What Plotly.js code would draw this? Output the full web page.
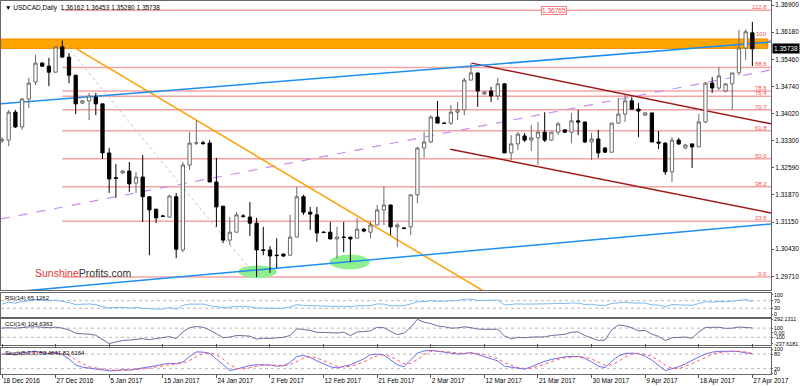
<!DOCTYPE html>
<html><head><meta charset="utf-8">
<script src="https://cdn.plot.ly/plotly-3.0.1.min.js"></script>
<style>html,body{margin:0;padding:0;background:#fff}#chart{width:800px;height:386px}</style>
</head><body><div id="chart"></div>
<script>
// ---- data ----
const tickIdx = [0,8,16,24,32,40,48,56,64,72,80,88,96,104,112];
const tickText = ['18 Dec 2016','27 Dec 2016','5 Jan 2017','15 Jan 2017','24 Jan 2017','2 Feb 2017','12 Feb 2017','21 Feb 2017','2 Mar 2017','12 Mar 2017','21 Mar 2017','30 Mar 2017','9 Apr 2017','18 Apr 2017','27 Apr 2017'];

const openP = [1.3330,1.3332,1.3406,1.3367,1.3441,1.3486,1.3536,1.3528,1.3512,1.3579,
1.3552,1.3504,1.3430,1.3436,1.3446,1.3428,1.3298,1.3232,1.3245,1.3250,
1.3218,1.3234,1.3182,1.3149,1.3131,1.3128,1.3182,1.3041,1.3266,1.3324,
1.3325,1.3324,1.3221,1.3157,1.3067,1.3088,1.3131,1.3128,1.3112,1.3041,
1.3041,1.3027,1.3030,1.3027,1.3075,1.3182,1.3141,1.3134,1.3088,1.3088,
1.3070,1.3075,1.3075,1.3072,1.3096,1.3088,1.3107,1.3147,1.3160,1.3102,
1.3099,1.3102,1.3187,1.3311,1.3327,1.3393,1.3377,1.3377,1.3406,1.3412,
1.3491,1.3510,1.3454,1.3462,1.3449,1.3481,1.3298,1.3322,1.3343,1.3332,
1.3338,1.3353,1.3332,1.3353,1.3359,1.3353,1.3383,1.3380,1.3327,1.3335,
1.3311,1.3300,1.3377,1.3401,1.3436,1.3414,1.3398,1.3404,1.3327,1.3324,
1.3248,1.3332,1.3311,1.3322,1.3314,1.3380,1.3483,1.3470,1.3462,1.3481,
1.3510,1.3576,1.36162];
const highP = [1.3340,1.3412,1.3412,1.3444,1.3497,1.3558,1.3539,1.3550,1.3579,1.3596,
1.3563,1.3504,1.3438,1.3457,1.3457,1.3428,1.3311,1.3269,1.3253,1.3274,
1.3248,1.3293,1.3182,1.3149,1.3134,1.3187,1.3192,1.3274,1.3353,1.3385,
1.3330,1.3332,1.3285,1.3157,1.3128,1.3141,1.3136,1.3168,1.3126,1.3102,
1.3051,1.3072,1.3031,1.3134,1.3208,1.3187,1.3155,1.3155,1.3091,1.3115,
1.3102,1.3115,1.3075,1.3126,1.3099,1.3115,1.3160,1.3208,1.3160,1.3112,
1.3102,1.3187,1.3314,1.3353,1.3398,1.3436,1.3380,1.3425,1.3433,1.3497,
1.3536,1.3510,1.3462,1.3473,1.3497,1.3483,1.3345,1.3353,1.3351,1.3372,
1.3380,1.3406,1.3353,1.3380,1.3361,1.3404,1.3412,1.3380,1.3351,1.3359,
1.3314,1.3377,1.3444,1.3452,1.3446,1.3430,1.3406,1.3404,1.3356,1.3327,
1.3340,1.3338,1.3322,1.3322,1.3401,1.3486,1.3499,1.3526,1.3483,1.3510,
1.3624,1.3626,1.36453];
const lowP = [1.3324,1.3316,1.3364,1.3359,1.3417,1.3478,1.3526,1.3475,1.3510,1.3550,
1.3483,1.3401,1.3428,1.3385,1.3398,1.3282,1.3192,1.3179,1.3242,1.3195,
1.3192,1.3115,1.3027,1.3112,1.3128,1.3126,1.3019,1.3035,1.3253,1.3319,
1.3319,1.3221,1.3102,1.3059,1.3054,1.3088,1.3126,1.3078,1.2969,1.3027,
1.2980,1.2993,1.3022,1.3026,1.3075,1.3134,1.3094,1.3062,1.3086,1.3070,
1.3019,1.3035,1.3009,1.3072,1.3088,1.3072,1.3107,1.3107,1.3080,1.3048,
1.3096,1.3080,1.3165,1.3285,1.3324,1.3377,1.3375,1.3372,1.3385,1.3398,
1.3491,1.3420,1.3452,1.3433,1.3438,1.3298,1.3279,1.3306,1.3327,1.3303,
1.3266,1.3327,1.3330,1.3345,1.3351,1.3324,1.3345,1.3324,1.3279,1.3285,
1.3298,1.3298,1.3375,1.3380,1.3414,1.3340,1.3396,1.3327,1.3308,1.3240,
1.3221,1.3319,1.3308,1.3258,1.3314,1.3377,1.3457,1.3465,1.3459,1.3412,
1.3504,1.3544,1.35280];
const closeP = [1.3333,1.3406,1.3367,1.3441,1.3483,1.3536,1.3528,1.3512,1.3579,1.3552,
1.3504,1.3428,1.3436,1.3449,1.3428,1.3298,1.3229,1.3231,1.3250,1.3216,
1.3234,1.3182,1.3147,1.3126,1.3130,1.3184,1.3043,1.3266,1.3324,1.3325,
1.3323,1.3221,1.3155,1.3067,1.3088,1.3134,1.3130,1.3112,1.3041,1.3040,
1.3025,1.3026,1.3025,1.3075,1.3182,1.3141,1.3136,1.3086,1.3087,1.3070,
1.3075,1.3074,1.3070,1.3096,1.3091,1.3107,1.3147,1.3160,1.3102,1.3107,
1.3098,1.3187,1.3311,1.3327,1.3393,1.3377,1.3376,1.3406,1.3412,1.3491,
1.3510,1.3462,1.3459,1.3449,1.3481,1.3298,1.3322,1.3348,1.3332,1.3338,
1.3353,1.3332,1.3353,1.3375,1.3353,1.3383,1.3380,1.3327,1.3335,1.3298,
1.3300,1.3377,1.3401,1.3436,1.3414,1.3409,1.3404,1.3327,1.3324,1.3248,
1.3332,1.3322,1.3319,1.3314,1.3380,1.3483,1.3470,1.3502,1.3481,1.3510,
1.3576,1.3619,1.35738];

const rsi = [52,62,57,66,70,74,72,69,73,68,
60,50,51,53,49,38,33,33,35,31,
34,30,27,26,26,34,25,46,52,52,
52,44,39,33,36,40,40,38,31,31,
30,30,30,37,49,45,44,40,40,39,
40,40,39,43,42,44,53,52,43,44,
44,53,64,65,70,67,67,69,70,77,
78,70,71,69,73,48,51,53,52,52,
54,51,54,56,55,58,57,50,51,46,
45,55,58,62,58,57,57,48,47,38,
50,48,47,46,55,65,62,66,64,67,
73,76,65.1262];
const cci = [102,110,100,118,125,130,118,110,122,100,
60,-10,-25,-30,-55,-150,-237.6181,-200,-170,-160,
-140,-130,-150,-125,-110,-85,-130,20,110,135,
120,60,-20,-110,-95,-60,-65,-75,-140,-120,
-125,-110,-100,-60,85,70,50,10,5,-10,
-5,10,-60,15,20,40,120,110,30,-40,
-10,120,292.1311,230,200,150,130,100,105,130,
110,80,75,70,75,-70,-130,-100,-110,-95,
-85,-90,-60,-40,-35,10,20,-60,-120,-170,
-160,60,170,150,110,40,50,-30,-80,-170,
-110,-100,-95,-120,20,116,120,120,95,100,
125,118,104.6363];
const stochK = [78,82,76,85,88,92,85,80,88,78,
60,35,26,22,18,14,11,12,16,14,
18,22,26,32,38,42,40,48,70,89,
88,82,60,35,12,18,25,33,36,37,
35,30,32,45,70,74,66,52,40,28,
23,30,36,48,60,78,80,76,55,36,
28,58,84,93,95,92,88,84,80,82,
86,78,70,60,52,30,25,20,18,28,
40,50,58,65,69,70,70,62,48,30,
24,50,72,82,84,82,72,55,35,12,
20,28,40,55,68,80,88,91,92,92,
90,84,80.4641];
const stochD = [80,79,80,81,84,88,88,86,84,82,
75,58,40,28,22,18,14,12,13,14,
16,18,22,27,32,37,40,43,53,69,
82,86,77,59,36,22,18,25,31,35,
36,34,32,36,49,63,70,64,53,40,
30,27,30,38,48,62,73,78,70,56,
40,41,57,78,91,93,92,88,84,82,
83,82,78,69,61,44,36,25,21,22,
29,39,49,58,64,68,70,67,60,47,
34,35,49,68,79,83,79,70,54,34,
22,20,29,41,54,68,79,86,90,92,
91,89,82.6164];

// price axis ticks
const priceTicks = [1.369,1.3618,1.3546,1.3474,1.3402,1.3330,1.3259,1.3187,1.3115,1.3043,1.2971];
const priceTickText = ['1.36900','1.36180','1.35460','1.34740','1.34020','1.33300','1.32590','1.31870','1.31150','1.30430','1.29710'];

// Fibonacci retracement (bar 9 high -> bar 38 low)
const fibLevels = [0,23.6,38.2,50,61.8,70.7,76.4,78.6,88.6,100,112.8];
const fibLabels = ['0.0','23.6','38.2','50.0','61.8','70.7','76.4','78.6','88.6','100','112.8'];
const fibLow = 1.2969, fibHigh = 1.3596, fibStartBar = 9;

// drawn objects (bar index, price)
const orangeZoneY = [1.3575, 1.3600];
const blueUpperX = [-0.15, 114.8], blueUpperY = [1.3428, 1.3592];
const blueLowerX = [-0.15, 114.8], blueLowerY = [1.2927, 1.3110];
const purpleX = [-0.15, 114.8], purpleY = [1.3123, 1.3518];
const orangeTrendX = [9, 75], orangeTrendY = [1.3596, 1.2899];
const grayDiagX = [9, 38], grayDiagY = [1.3596, 1.2969];
const redUpperX = [70.1, 114.8], redUpperY = [1.3536, 1.3375];
const redLowerX = [66.9, 114.8], redLowerY = [1.3308, 1.3139];
const ellipse1 = {x:[35.3,41.0], y:[1.2966,1.3000]};
const ellipse2 = {x:[48.9,54.9], y:[1.2989,1.3029]};

const rsiLevels = [70,30], cciLevels = [100,-100], stochLevels = [80,20];

// ---- build ----
const barIdx = openP.map((_, i) => i);
const XR = [-0.15, 114.78];
const F = 'Liberation Sans, Arial, sans-serif';

const traces = [
  {type:'candlestick', x:barIdx, open:openP, high:highP, low:lowP, close:closeP,
   xaxis:'x', yaxis:'y', whiskerwidth:0, hoverinfo:'skip',
   increasing:{line:{color:'#6a6a6a',width:1}, fillcolor:'#ffffff'},
   decreasing:{line:{color:'#000000',width:1}, fillcolor:'#000000'}},
  {type:'scatter', mode:'lines', x:barIdx, y:rsi, xaxis:'x', yaxis:'y2', line:{color:'#7db8f0',width:1}, hoverinfo:'skip'},
  {type:'scatter', mode:'lines', x:barIdx, y:cci, xaxis:'x', yaxis:'y3', line:{color:'#6c6c9c',width:1}, hoverinfo:'skip'},
  {type:'scatter', mode:'lines', x:barIdx, y:stochK, xaxis:'x', yaxis:'y4', line:{color:'#6b6bf2',width:1}, hoverinfo:'skip'},
  {type:'scatter', mode:'lines', x:barIdx, y:stochD, xaxis:'x', yaxis:'y4', line:{color:'#ff5a5a',width:1,dash:'dot'}, hoverinfo:'skip'}
];

const shapes = [];
// fib lines
const fibPrice = fibLevels.map(l => fibLow + (fibHigh - fibLow) * l / 100);
fibPrice.forEach(p => shapes.push({type:'line', xref:'x', yref:'y', x0:fibStartBar, x1:XR[1], y0:p, y1:p,
  line:{color:'#f6a3a3',width:1.5}, layer:'below'}));
// orange zone (drawn over the fib lines)
shapes.push({type:'rect', xref:'x', yref:'y', x0:XR[0], x1:114.3, y0:orangeZoneY[0], y1:orangeZoneY[1],
  fillcolor:'#ffa500', line:{color:'#f08c00',width:1}, layer:'below'});
// green ellipses
[ellipse1, ellipse2].forEach(e => shapes.push({type:'circle', xref:'x', yref:'y', x0:e.x[0], x1:e.x[1], y0:e.y[0], y1:e.y[1],
  fillcolor:'#8fee8f', line:{width:0}, layer:'below'}));
function seg(xs, ys, color, width, dash){
  shapes.push({type:'line', xref:'x', yref:'y', x0:xs[0], x1:xs[1], y0:ys[0], y1:ys[1],
    line:{color:color, width:width, dash:dash||'solid'}, layer:'below'});
}
seg(grayDiagX, grayDiagY, '#c4c4c4', 1, 'dot');
seg(purpleX, purpleY, '#c88cf0', 1.2, 'dash');
seg(orangeTrendX, orangeTrendY, '#ffa000', 1.5);
seg(redUpperX, redUpperY, '#9e1a1a', 1.5);
seg(redLowerX, redLowerY, '#9e1a1a', 1.5);
seg(blueUpperX, blueUpperY, '#1e8ef0', 1.5);
seg(blueLowerX, blueLowerY, '#1e8ef0', 1.5);
// indicator level lines
function lvl(yref, v){ shapes.push({type:'line', xref:'paper', yref:yref, x0:0, x1:1, y0:v, y1:v,
  line:{color:'#b8b8b8',width:1,dash:'dot'}, layer:'below'}); }
rsiLevels.forEach(v => lvl('y2', v));
cciLevels.forEach(v => lvl('y3', v));
stochLevels.forEach(v => lvl('y4', v));

const annotations = [];
annotations.push({xref:'paper', yref:'paper', x:0, y:1, xanchor:'left', yanchor:'top', xshift:2, yshift:-1,
  text:'▼ USDCAD,Daily  1.36162 1.36453 1.35280 1.35738', showarrow:false, font:{family:F,size:6.5,color:'#000'}});
annotations.push({xref:'paper', yref:'y domain', x:0.041, y:0.059, xanchor:'left', yanchor:'middle',
  text:'<span style="color:#e8343a">Sunshine</span><span style="color:#333333">Profits.com</span>',
  showarrow:false, font:{family:F,size:10.5}});
fibPrice.forEach((p, k) => annotations.push({xref:'x', yref:'y', x:XR[1], y:p, xanchor:'right', yanchor:'bottom',
  xshift:-2, yshift:(fibLabels[k]==='100' ? 1 : -2), text:fibLabels[k], showarrow:false, font:{family:F,size:6,color:'#ff4a4a'}}));
annotations.push({xref:'x', yref:'y', x:82.4, y:fibPrice[fibPrice.length-1], xanchor:'center', yanchor:'middle',
  text:'1.36765', showarrow:false, bgcolor:'#ffffff', bordercolor:'#f08080', borderwidth:1, borderpad:0,
  font:{family:F,size:6.5,color:'#ff4040'}});
annotations.push({xref:'paper', yref:'y', x:1, y:closeP[closeP.length-1], xanchor:'left', yanchor:'middle', xshift:1,
  text:'1.35738', showarrow:false, bgcolor:'#000000', borderpad:1, font:{family:F,size:6.5,color:'#ffffff'}});
[['y2 domain','RSI(14) 65.1262'],['y3 domain','CCI(14) 104.6363'],['y4 domain','Stoch(5,3,3) 80.4641 82.6164']].forEach(a =>
  annotations.push({xref:'paper', yref:a[0], x:0, y:1, xanchor:'left', yanchor:'top', xshift:2, yshift:0,
    text:a[1], showarrow:false, font:{family:F,size:6,color:'#000'}}));

const yBase = {side:'right', showline:true, mirror:true, linecolor:'#666', linewidth:1, showgrid:false, zeroline:false,
  ticks:'outside', ticklen:2, tickcolor:'#555', tickfont:{family:F,size:6.5,color:'#000'}, fixedrange:true};
const subFont = {family:F, size:5.4, color:'#000'};

const layout = {
  width:800, height:386, margin:{l:1, r:29, t:1, b:12},
  paper_bgcolor:'#ffffff', plot_bgcolor:'#ffffff', showlegend:false,
  font:{family:F, size:6.5, color:'#000'},
  xaxis:{anchor:'y4', domain:[0,1], range:XR, tickvals:tickIdx, ticktext:tickText, ticks:'outside', ticklen:3,
    tickcolor:'#555', showline:true, mirror:'all', linecolor:'#666', showgrid:false, zeroline:false,
    ticklabelposition:'outside right', tickfont:{family:F,size:6.5,color:'#000'}, rangeslider:{visible:false}, fixedrange:true},
  yaxis: Object.assign({}, yBase, {domain:[0.2252,1], range:[1.29348,1.37006], tickvals:priceTicks, ticktext:priceTickText}),
  yaxis2: Object.assign({}, yBase, {domain:[0.1528,0.2172], range:[-15.8,110.5], tickvals:[100,70,30,0], ticktext:['100','70','30','0'], tickfont:subFont, ticklen:1}),
  yaxis3: Object.assign({}, yBase, {domain:[0.0777,0.1475], range:[-268,300], tickvals:[292.1311,100,0,-100,-237.6181], ticktext:['292.1311','100','0.00','-100','-237.6181'], tickfont:subFont, ticklen:1}),
  yaxis4: Object.assign({}, yBase, {domain:[0,0.0697], range:[-2,105], tickvals:[100,80,20,0], ticktext:['100','80','20','0'], tickfont:subFont, ticklen:1}),
  shapes:shapes, annotations:annotations
};

Plotly.newPlot('chart', traces, layout, {staticPlot:true, displayModeBar:false});
</script></body></html>
